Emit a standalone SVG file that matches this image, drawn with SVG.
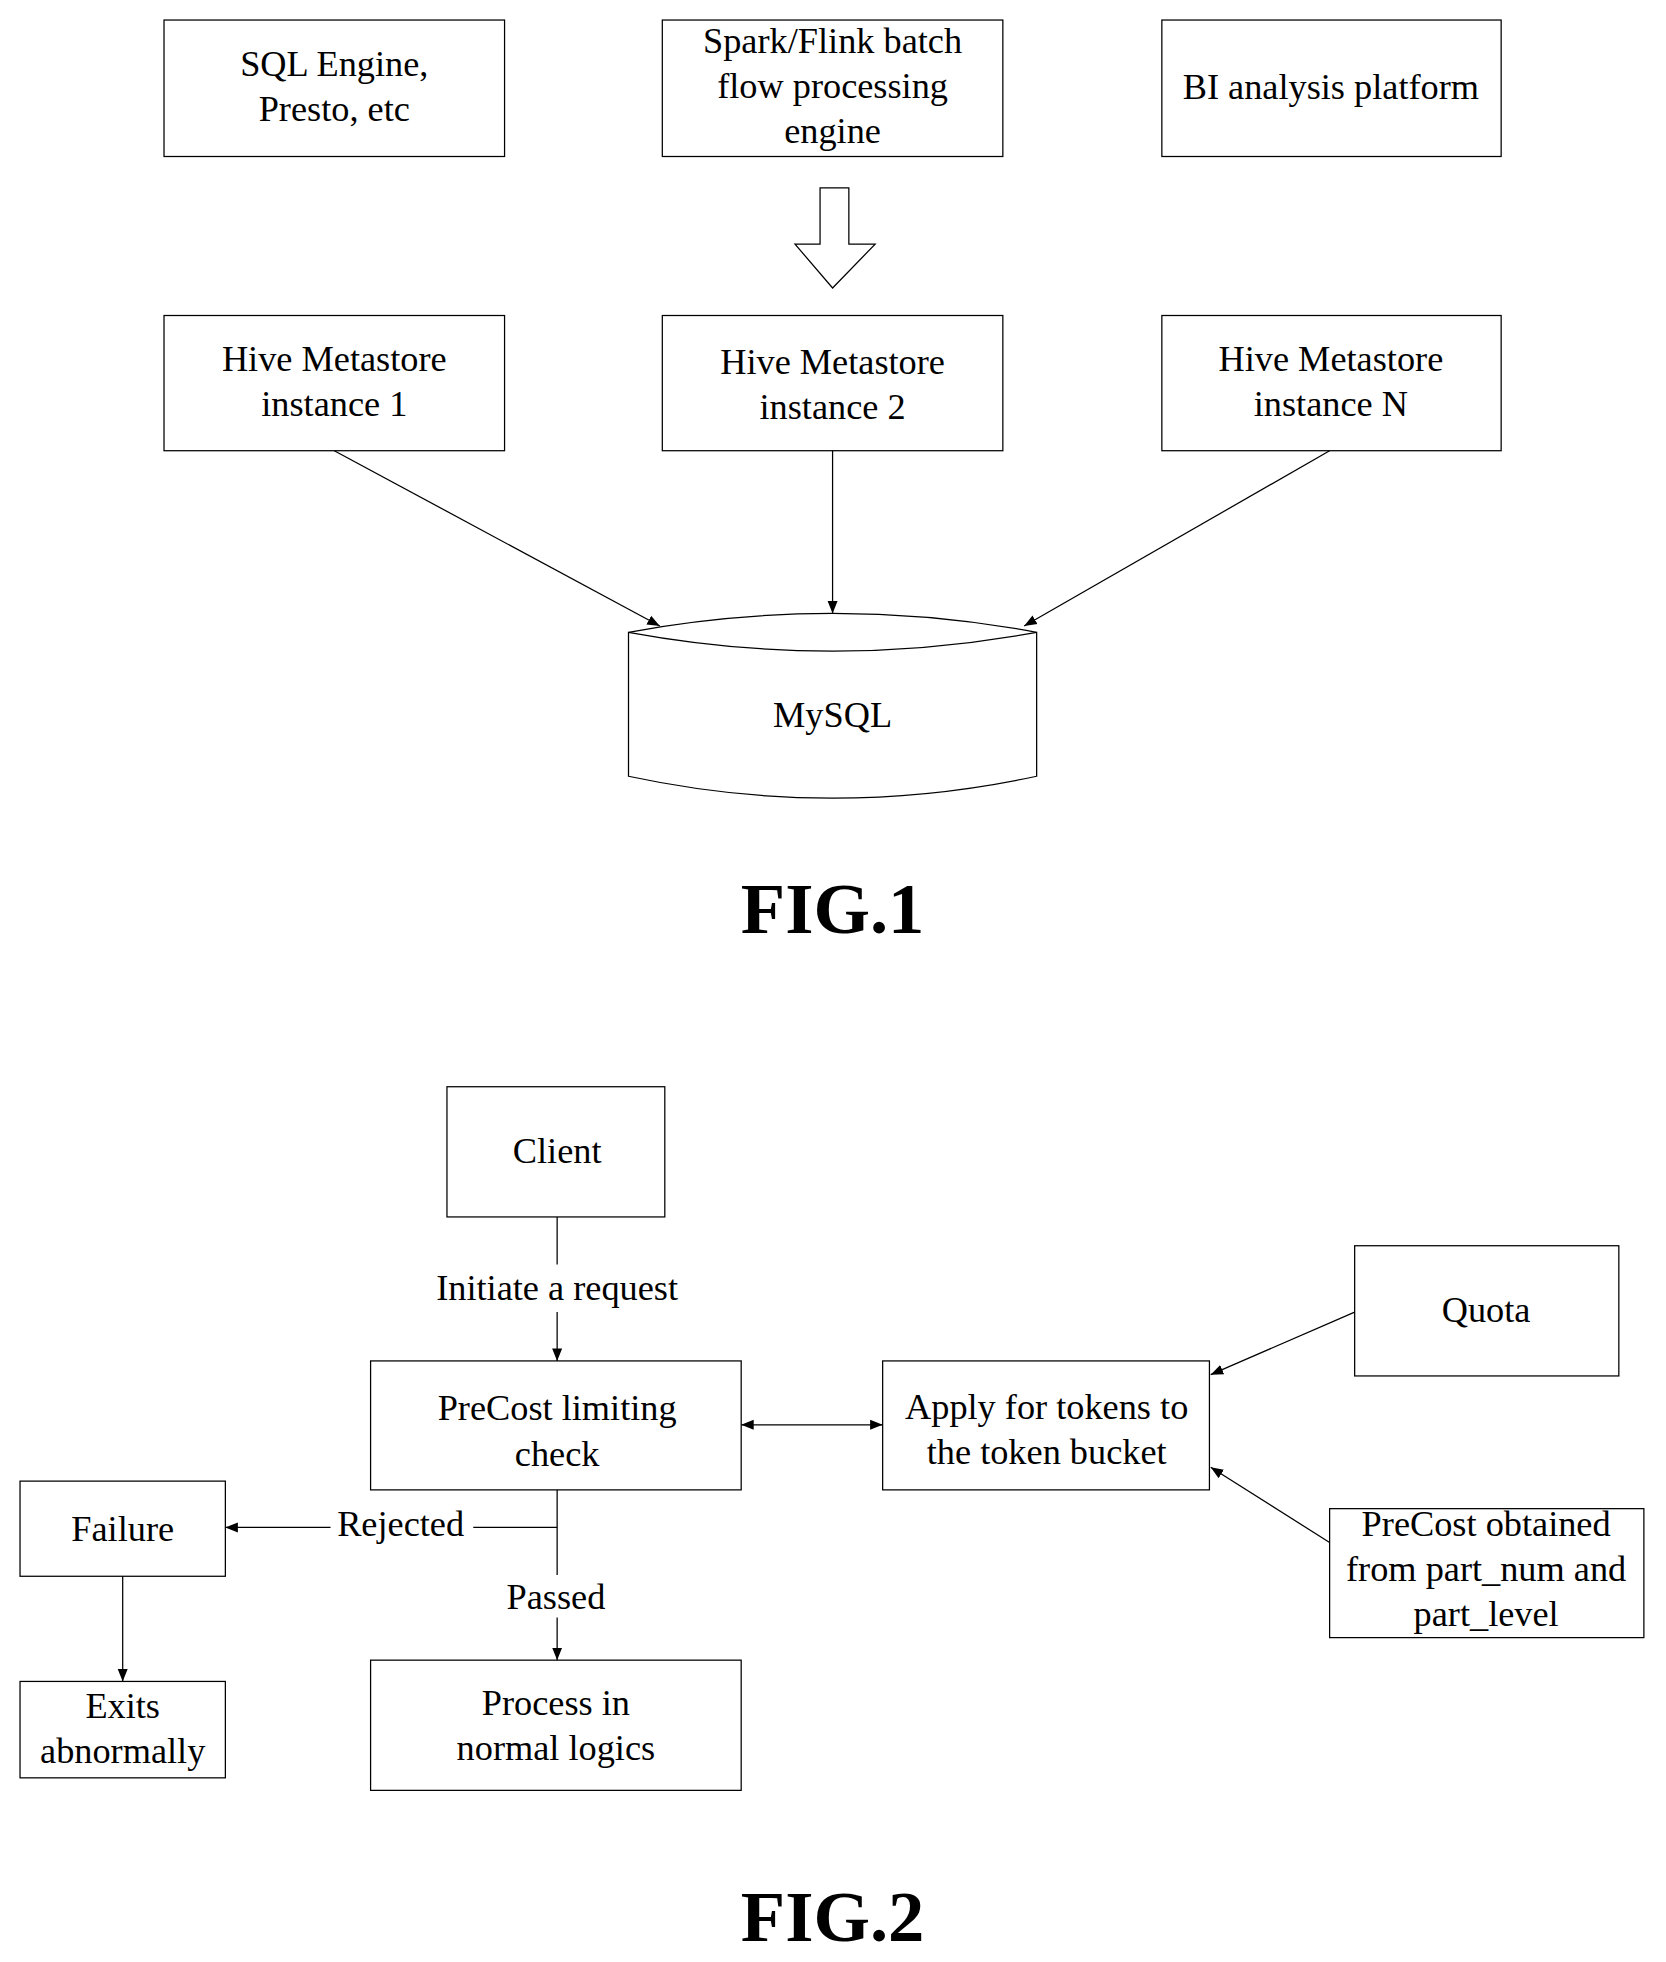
<svg xmlns="http://www.w3.org/2000/svg" width="1666" height="1962" viewBox="0 0 1666 1962">
<defs>
<style>
.b{fill:#fff;stroke:#000;stroke-width:1}
.t{font-family:"Liberation Serif",serif;font-size:29px;text-anchor:middle}
.l{fill:none;stroke:#000;stroke-width:1}
.f{font-family:"Liberation Serif",serif;font-size:58px;font-weight:bold;text-anchor:middle}
</style>
<marker id="a" viewBox="0 0 10 10" refX="10" refY="5" markerWidth="10" markerHeight="10" markerUnits="userSpaceOnUse" orient="auto-start-reverse"><path d="M0,1 L10,5 L0,9 z" fill="#000"/></marker>
</defs>
<rect width="1666" height="1962" fill="#fff"/>
<g transform="scale(1.252)">
<g id="sql"><rect class="b" x="131" y="16" width="272" height="109"/><text class="t" x="267" y="61">SQL Engine,</text><text class="t" x="267" y="97">Presto, etc</text></g>
<g id="spark"><rect class="b" x="529" y="16" width="272" height="109"/><text class="t" x="665" y="42">Spark/Flink batch</text><text class="t" x="665" y="78">flow processing</text><text class="t" x="665" y="114">engine</text></g>
<g id="bi"><rect class="b" x="928" y="16" width="271" height="109"/><text class="t" x="1063" y="79">BI analysis platform</text></g>
<g id="hollow"><path class="b" d="M655,150 H678 V195 H699 L665,230 L635,195 H655 Z"/></g>
<g id="h1"><rect class="b" x="131" y="252" width="272" height="108"/><text class="t" x="267" y="296">Hive Metastore</text><text class="t" x="267" y="332">instance 1</text></g>
<g id="h2"><rect class="b" x="529" y="252" width="272" height="108"/><text class="t" x="665" y="299">Hive Metastore</text><text class="t" x="665" y="335">instance 2</text></g>
<g id="hn"><rect class="b" x="928" y="252" width="271" height="108"/><text class="t" x="1063" y="296">Hive Metastore</text><text class="t" x="1063" y="332">instance N</text></g>
<g id="mysql"><path class="b" d="M502,505 Q665,475 828,505 V620 Q665,655 502,620 Z"/><path class="l" d="M502,505 Q665,535 828,505"/><text class="t" x="665" y="581" font-size="26">MySQL</text></g>
<text class="f" x="665" y="745">FIG.1</text>
<g id="client"><rect class="b" x="357" y="868" width="174" height="104"/><text class="t" x="445" y="929">Client</text></g>
<g id="precost"><rect class="b" x="296" y="1087" width="296" height="103"/><text class="t" x="445" y="1134">PreCost limiting</text><text class="t" x="445" y="1171">check</text></g>
<g id="apply"><rect class="b" x="705" y="1087" width="261" height="103"/><text class="t" x="836" y="1133">Apply for tokens to</text><text class="t" x="836" y="1169">the token bucket</text></g>
<g id="quota"><rect class="b" x="1082" y="995" width="211" height="104"/><text class="t" x="1187" y="1056" font-size="26">Quota</text></g>
<g id="obt"><rect class="b" x="1062" y="1205" width="251" height="103"/><text class="t" x="1187" y="1227">PreCost obtained</text><text class="t" x="1187" y="1263">from part_num and</text><text class="t" x="1187" y="1299">part_level</text></g>
<g id="failure"><rect class="b" x="16" y="1183" width="164" height="76"/><text class="t" x="98" y="1231">Failure</text></g>
<g id="exits"><rect class="b" x="16" y="1343" width="164" height="77"/><text class="t" x="98" y="1372">Exits</text><text class="t" x="98" y="1408">abnormally</text></g>
<g id="process"><rect class="b" x="296" y="1326" width="296" height="104"/><text class="t" x="444" y="1370">Process in</text><text class="t" x="444" y="1406">normal logics</text></g>
<g id="connectors">
<path class="l" marker-end="url(#a)" d="M267,360 L527,500"/>
<path class="l" marker-end="url(#a)" d="M665,360 V490"/>
<path class="l" marker-end="url(#a)" d="M1062,360 L818,500"/>
<path class="l" d="M445,972 V1010"/>
<path class="l" marker-end="url(#a)" d="M445,1048 V1087"/>
<path class="l" marker-start="url(#a)" marker-end="url(#a)" d="M592,1138 H705"/>
<path class="l" marker-end="url(#a)" d="M1082,1048 L967,1098"/>
<path class="l" marker-end="url(#a)" d="M1062,1232 L967,1172"/>
<path class="l" d="M445,1190 V1258"/>
<path class="l" d="M445,1220 H378"/>
<path class="l" marker-end="url(#a)" d="M264,1220 H180"/>
<path class="l" marker-end="url(#a)" d="M445,1292 V1326"/>
<path class="l" marker-end="url(#a)" d="M98,1259 V1343"/>
</g>
<text class="t" x="445" y="1038">Initiate a request</text>
<text class="t" x="320" y="1227">Rejected</text>
<text class="t" x="444" y="1285">Passed</text>
<text class="f" x="665" y="1550">FIG.2</text>
</g>
</svg>
